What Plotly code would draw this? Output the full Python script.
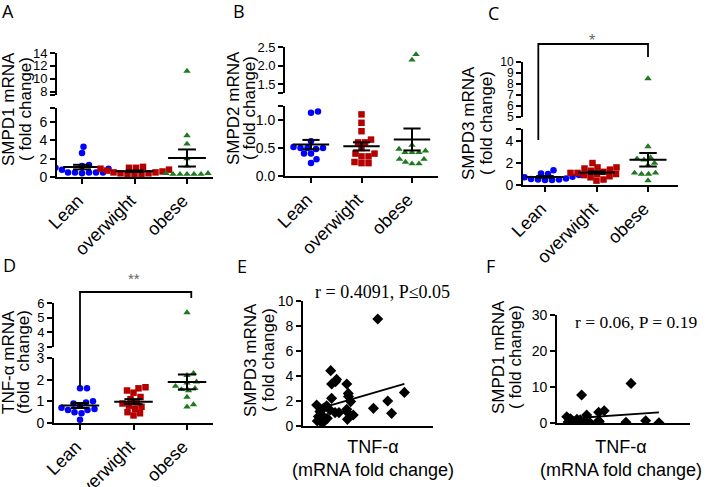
import numpy as np
import plotly.graph_objects as go

W, H = 708, 487

# ---------------- data ----------------
categories = ["Lean", "overwight", "obese"]

smpd1_lean = [3.3, 2.6, 1.3, 1.2, 1.0, 0.9, 0.8, 0.5, 0.5, 0.5, 0.5, 0.5, 0.4]
smpd1_over = [1.1, 1.0, 1.0, 0.9, 0.8, 0.7, 0.6, 0.5, 0.5, 0.4, 0.4, 0.3, 0.3, 0.3]
smpd1_obese = [11.2, 4.5, 3.6, 2.0, 1.2, 0.4, 0.4, 0.3, 0.3, 0.3, 0.3, 0.3]

smpd2_lean = [1.15, 1.13, 0.62, 0.52, 0.5, 0.5, 0.5, 0.48, 0.4, 0.4, 0.3, 0.23]
smpd2_over = [1.1, 0.95, 0.8, 0.65, 0.6, 0.6, 0.5, 0.4, 0.4, 0.35, 0.35, 0.23, 0.23, 0.25]
smpd2_obese = [2.3, 2.15, 0.55, 0.48, 0.45, 0.42, 0.42, 0.42, 0.3, 0.3, 0.25, 0.22, 0.22]

smpd3_lean = [1.35, 1.05, 1.0, 0.9, 0.8, 0.75, 0.7, 0.6, 0.55, 0.5, 0.5, 0.45, 0.45]
smpd3_over = [2.0, 1.6, 1.6, 1.5, 1.4, 1.3, 1.2, 1.1, 1.1, 1.0, 1.0, 0.9, 0.8, 0.7, 0.5, 0.4]
smpd3_obese = [8.5, 3.5, 2.5, 2.4, 2.3, 2.0, 1.8, 1.1, 1.1, 1.0, 1.0, 0.4]

tnf_lean = [1.6, 1.6, 1.0, 0.95, 0.9, 0.8, 0.7, 0.65, 0.6, 0.6, 0.5, 0.45, 0.15]
tnf_over = [1.65, 1.6, 1.5, 1.4, 1.2, 1.1, 0.95, 0.9, 0.8, 0.75, 0.65, 0.5, 0.45, 0.35]
tnf_obese = [5.35, 2.3, 2.2, 1.9, 1.85, 1.7, 1.6, 1.55, 1.5, 1.2, 0.85, 0.75]

# correlation E: TNF-alpha vs SMPD3
e_tnf = [3.45, 1.28, 1.55, 1.5, 1.32, 2.02, 1.32, 2.09, 2.1, 2.2, 4.68, 3.91, 3.25, 4.09,
         1.48, 1.66, 2.02, 2.05, 2.32, 2.05, 0.63, 1.09, 0.66, 0.89, 0.97, 0.78, 1.12,
         0.94, 1.25, 0.71, 0.86]
e_smpd3 = [8.56, 4.43, 3.73, 3.55, 3.36, 3.36, 2.21, 2.61, 2.35, 1.95, 2.69, 2.0, 1.41, 1.01,
           1.07, 1.07, 1.33, 1.1, 0.88, 0.53, 1.68, 1.62, 0.4, 0.83, 0.35, 1.15, 0.61,
           1.41, 1.28, 0.75, 0.27]

# correlation F: TNF-alpha vs SMPD1
f_tnf = [3.34, 1.11, 2.13, 1.88, 1.34, 0.44, 1.91, 1.88, 1.49, 3.11, 4.0, 4.6,
         0.5, 0.65, 0.8, 0.9, 1.0, 1.15, 1.25, 0.6, 0.75, 1.05]
f_smpd1 = [11.0, 7.8, 3.4, 2.96, 2.2, 1.76, 0.37, 0.6, 0.05, 0.2, 0.65, 0.05,
           0.3, 0.8, 0.2, 1.0, 0.4, 0.1, 0.6, 1.2, 0.5, 0.9]

# ---------------- helpers ----------------
def px_x(p):
    return p / W


def px_y(p):
    return 1 - p / H


FONT = "Liberation Sans, Arial, sans-serif"
SERIF = "Liberation Serif, Times New Roman, serif"
group_styles = [
    dict(symbol="circle", color="#0000FF"),
    dict(symbol="square", color="#B40000"),
    dict(symbol="triangle-up", color="#1E7A1E"),
]

base_axis = dict(showline=True, linecolor="black", linewidth=1.8, ticks="outside",
                 ticklen=5, tickwidth=1.8, tickcolor="black", showgrid=False,
                 zeroline=False, automargin=False,
                 tickfont=dict(family=FONT, size=14, color="black"))

fig = go.Figure()
layout_axes = {}
shapes = []
annotations = []
axis_counter = [0]


def new_axis_pair():
    axis_counter[0] += 1
    n = axis_counter[0]
    sx = "" if n == 1 else str(n)
    return n, "x" + sx, "y" + sx, "xaxis" + sx, "yaxis" + sx


def swarm(values, ppu, cat_px, d=6.6):
    """deterministic beeswarm offsets (category units) derived from the values"""
    vals = np.asarray(values, float)
    offs = np.zeros(len(vals))
    placed = []
    for idx in np.argsort(vals, kind="stable"):
        y = vals[idx] * ppu
        k = 0.0
        while True:
            cands = [0.0] if k == 0 else [k, -k]
            ok = None
            for c in cands:
                if all((c - px) ** 2 + (y - py) ** 2 >= d * d for px, py in placed):
                    ok = c
                    break
            if ok is not None:
                placed.append((ok, y))
                offs[idx] = ok / cat_px
                break
            k += 0.5
    return offs


def broken_panel(groups, xpx, cat0px, catpx, low, up):
    xr = [(xpx[0] - cat0px) / catpx, (xpx[1] - cat0px) / catpx]
    dom_x = [px_x(xpx[0]), px_x(xpx[1])]
    _, xl, yl, xlk, ylk = new_axis_pair()
    layout_axes[xlk] = dict(base_axis, domain=dom_x, range=xr, anchor=yl,
                            tickvals=[0, 1, 2], showticklabels=False)
    layout_axes[ylk] = dict(base_axis, domain=[px_y(low["bottom_px"]), px_y(low["top_px"])],
                            range=low["range"], anchor=xl, tickvals=low["ticks"],
                            ticktext=low["labels"])
    _, xu, yu, xuk, yuk = new_axis_pair()
    layout_axes[xuk] = dict(domain=dom_x, range=xr, anchor=yu, visible=False)
    layout_axes[yuk] = dict(base_axis, domain=[px_y(up["bottom_px"]), px_y(up["top_px"])],
                            range=up["range"], anchor=xu, tickvals=up["ticks"],
                            ticktext=up["labels"],
                            tickfont=dict(family=FONT, size=up.get("fs", 13), color="black"))
    ppu_low = (low["bottom_px"] - low["top_px"]) / (low["range"][1] - low["range"][0])
    ppu_up = (up["bottom_px"] - up["top_px"]) / (up["range"][1] - up["range"][0])
    cut = low["range"][1]
    for gi, vals in enumerate(groups):
        v = np.asarray(vals, float)
        lo = v[v <= cut]
        hi = v[v > cut]
        st = group_styles[gi]
        for part, ppu, xa, ya in ((lo, ppu_low, xl, yl), (hi, ppu_up, xu, yu)):
            if len(part) == 0:
                continue
            off = swarm(part, ppu, catpx)
            fig.add_trace(go.Scatter(x=gi + off, y=part, mode="markers", xaxis=xa, yaxis=ya,
                                     marker=dict(symbol=st["symbol"], color=st["color"],
                                                 size=6.5, line=dict(width=0)),
                                     hoverinfo="skip"))
        m = v.mean()
        s = v.std(ddof=1) / np.sqrt(len(v))
        hw, cw = 0.36, 0.17
        xs = [gi - hw, gi + hw, None, gi, gi, None, gi - cw, gi + cw, None, gi - cw, gi + cw]
        ys = [m, m, None, m - s, m + s, None, m - s, m - s, None, m + s, m + s]
        fig.add_trace(go.Scatter(x=xs, y=ys, mode="lines", xaxis=xl, yaxis=yl,
                                 line=dict(color="black", width=2), hoverinfo="skip"))
    # rotated category labels
    for gi, name in enumerate(categories):
        annotations.append(dict(text=name, x=gi + 8 / catpx, xref=xl,
                                y=px_y(low["bottom_px"] + 11), yref="paper",
                                showarrow=False, textangle=-45, xanchor="right", yanchor="top",
                                font=dict(family=FONT, size=18, color="black")))
    return xl, yl


def ytitle(line1, line2, x1, x2, cy):
    for t, cx in ((line1, x1), (line2, x2)):
        annotations.append(dict(text=t, x=px_x(cx), y=px_y(cy), xref="paper", yref="paper",
                                showarrow=False, textangle=-90, xanchor="center",
                                yanchor="middle",
                                font=dict(family=FONT, size=17, color="black")))


def panel_letter(t, cx, cy):
    annotations.append(dict(text=t, x=px_x(cx), y=px_y(cy), xref="paper", yref="paper",
                            showarrow=False, xanchor="center", yanchor="middle",
                            font=dict(family="Open Sans, sans-serif", size=18, color="black")))


# ---------------- panel A ----------------
broken_panel([smpd1_lean, smpd1_over, smpd1_obese], (57, 213), 82, 52.5,
             dict(bottom_px=177, top_px=108, range=[0, 7.5], ticks=[0, 2, 4, 6, 7.5],
                  labels=["0", "2", "4", "6", ""]),
             dict(bottom_px=95, top_px=53, range=[7.5, 14], ticks=[7.5, 8, 10, 12, 14],
                  labels=["", "8", "10", "12", "14"]))
ytitle("SMPD1 mRNA", "( fold change)", 9, 26, 109)
panel_letter("A", 8, 11)

# ---------------- panel B ----------------
broken_panel([smpd2_lean, smpd2_over, smpd2_obese], (285, 438), 311, 50.5,
             dict(bottom_px=176, top_px=106, range=[0, 1.25], ticks=[0, 0.5, 1.0, 1.25],
                  labels=["0.0", "0.5", "1.0", ""]),
             dict(bottom_px=93, top_px=47, range=[1.26, 2.5], ticks=[1.26, 1.5, 2.0, 2.5],
                  labels=["", "1.5", "2.0", "2.5"]))
ytitle("SMPD2 mRNA", "( fold change)", 234, 250, 108)
panel_letter("B", 239, 11)

# ---------------- panel C ----------------
xc, yc = broken_panel([smpd3_lean, smpd3_over, smpd3_obese], (523, 678), 545, 51.5,
                      dict(bottom_px=185, top_px=129, range=[0, 5.1], ticks=[0, 2, 4, 5.1],
                           labels=["0", "2", "4", ""]),
                      dict(bottom_px=117, top_px=62, range=[5, 10],
                           ticks=[5, 6, 7, 8, 9, 10],
                           labels=["5", "6", "7", "8", "9", "10"], fs=12))
ytitle("SMPD3 mRNA", "( fold change)", 468, 486, 123)
panel_letter("C", 494, 13)
shapes.append(dict(type="path", xref=xc, yref="paper",
                   path="M -0.13,%f L -0.13,%f L 2,%f L 2,%f" % (px_y(140), px_y(44), px_y(44), px_y(57)),
                   line=dict(color="black", width=1.8)))
annotations.append(dict(text="*", x=0.92, xref=xc, y=px_y(41), yref="paper", showarrow=False,
                        xanchor="center", yanchor="middle",
                        font=dict(family=FONT, size=16, color="#666666")))

# ---------------- panel D ----------------
xd, yd = broken_panel([tnf_lean, tnf_over, tnf_obese], (54, 213), 80, 53.5,
                      dict(bottom_px=423, top_px=358, range=[0, 3], ticks=[0, 1, 2, 3],
                           labels=["0", "1", "2", "3"]),
                      dict(bottom_px=347, top_px=303, range=[3, 6], ticks=[3, 4, 5, 6],
                           labels=["3", "4", "5", "6"]))
ytitle("TNF-α mRNA", "(fold\u00a0 change)", 8, 23, 362)
panel_letter("D", 9, 265)
shapes.append(dict(type="path", xref=xd, yref="paper",
                   path="M 0,%f L 0,%f L 2.08,%f L 2.08,%f" % (px_y(387), px_y(292), px_y(292), px_y(298)),
                   line=dict(color="black", width=1.8)))
annotations.append(dict(text="**", x=1, xref=xd, y=px_y(278), yref="paper", showarrow=False,
                        xanchor="center", yanchor="middle",
                        font=dict(family=FONT, size=15, color="#666666")))


# ---------------- correlation panels ----------------
def corr_panel(xv, yv, xpx, ypx, yrange, yticks, xrange_):
    _, xa, ya, xk, yk = new_axis_pair()
    layout_axes[xk] = dict(base_axis, domain=[px_x(xpx[0]), px_x(xpx[1])], range=xrange_,
                           anchor=ya, ticks="", showticklabels=False)
    layout_axes[yk] = dict(base_axis, domain=[px_y(ypx[0]), px_y(ypx[1])], range=yrange,
                           anchor=xa, tickvals=yticks)
    xv = np.asarray(xv, float)
    yv = np.asarray(yv, float)
    fig.add_trace(go.Scatter(x=xv, y=yv, mode="markers", xaxis=xa, yaxis=ya,
                             marker=dict(symbol="diamond", color="black", size=8.5),
                             hoverinfo="skip"))
    k, b = np.polyfit(xv, yv, 1)
    xl = np.array([xv.min(), xv.max()])
    fig.add_trace(go.Scatter(x=xl, y=k * xl + b, mode="lines", xaxis=xa, yaxis=ya,
                             line=dict(color="black", width=1.8), hoverinfo="skip"))
    return xa, ya


corr_panel(e_tnf, e_smpd3, (303, 433), (426, 301), [0, 10], [0, 2, 4, 6, 8, 10], [0, 6])
ytitle("SMPD3 mRNA", "( fold change)", 250, 268, 360)
panel_letter("E", 242, 266)
annotations.append(dict(text="r = 0.4091, P≤0.05", x=px_x(382), y=px_y(292), xref="paper",
                        yref="paper", showarrow=False, xanchor="center", yanchor="middle",
                        font=dict(family=SERIF, size=18, color="black")))
annotations.append(dict(text="TNF-α<br>(mRNA fold change)", x=px_x(373), y=px_y(458),
                        xref="paper", yref="paper", showarrow=False, xanchor="center",
                        yanchor="middle", font=dict(family=FONT, size=18, color="black")))

xf, yf = corr_panel(f_tnf, f_smpd1, (557, 690), (423, 315), [0, 30], [0, 10, 20, 30], [0, 6])
_, xfu, yfu, xfuk, yfuk = new_axis_pair()
layout_axes[xfuk] = dict(domain=[px_x(557), px_x(690)], range=[0, 6], anchor=yfu, visible=False)
layout_axes[yfuk] = dict(base_axis, domain=[px_y(301), px_y(292)], range=[38, 62], anchor=xfu,
                         tickvals=[40, 50, 60], ticklen=4,
                         tickfont=dict(family=FONT, size=13, color="black"))
ytitle("SMPD1 mRNA", "( fold change)", 498, 515, 357)
panel_letter("F", 490, 266)
annotations.append(dict(text="r = 0.06, P = 0.19", x=px_x(636), y=px_y(322), xref="paper",
                        yref="paper", showarrow=False, xanchor="center", yanchor="middle",
                        font=dict(family=SERIF, size=17.5, color="black")))
annotations.append(dict(text="TNF-α<br>(mRNA fold change)", x=px_x(621), y=px_y(458),
                        xref="paper", yref="paper", showarrow=False, xanchor="center",
                        yanchor="middle", font=dict(family=FONT, size=18, color="black")))

fig.update_layout(width=W, height=H, margin=dict(l=0, r=0, t=0, b=0, autoexpand=False),
                  plot_bgcolor="white", paper_bgcolor="white", showlegend=False,
                  shapes=shapes, annotations=annotations, **layout_axes)
fig.write_html("out.html", config={"displayModeBar": False},
               post_script="document.body.style.margin='0';document.body.style.overflow='hidden';")
